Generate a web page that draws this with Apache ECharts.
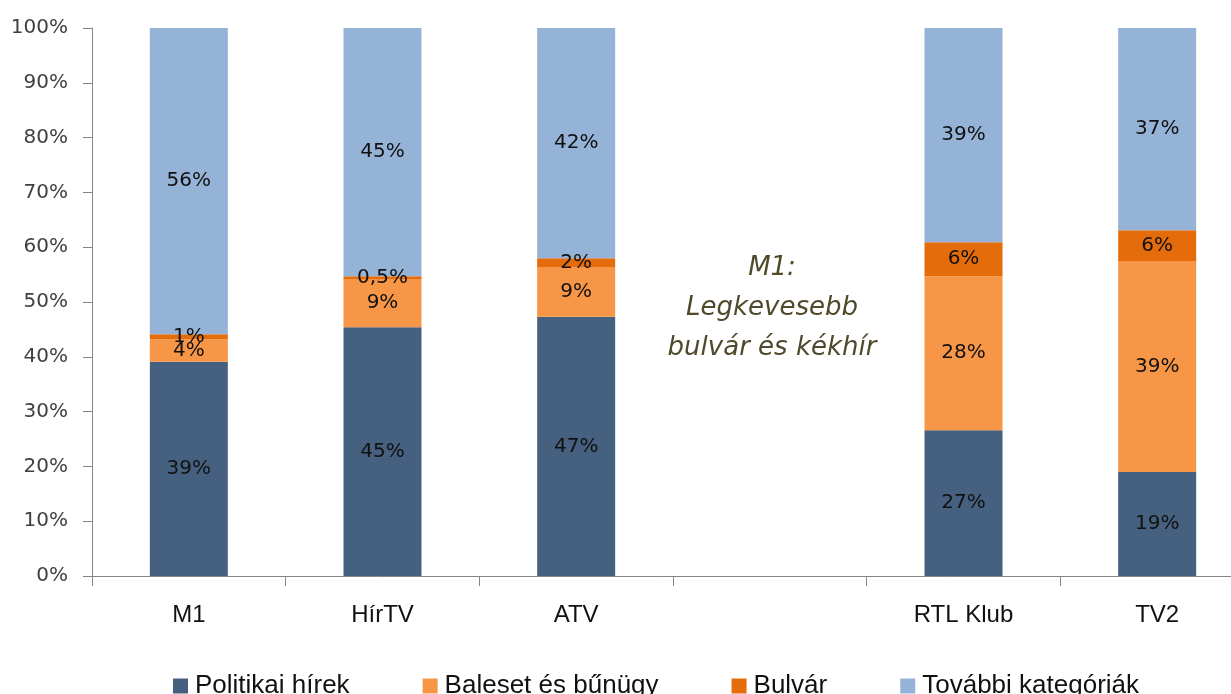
<!DOCTYPE html>
<html>
<head>
<meta charset="utf-8">
<script src="https://cdn.jsdelivr.net/npm/echarts@6/dist/echarts.min.js"></script>
<style>
html,body{margin:0;padding:0;background:#fff;}
#c{width:1231px;height:694px;}
</style>
</head>
<body>
<div id="c"></div>
<script>
const categories = ['M1', 'HírTV', 'ATV', '', 'RTL Klub', 'TV2'];
const politikai = [39.1, 45.4, 47.3, null, 26.6, 19.0];
const baleset = [4.1, 8.8, 9.1, null, 28.1, 38.5];
const bulvar = [0.9, 0.5, 1.6, null, 6.2, 5.6];
const tovabbi = [55.9, 45.3, 42.0, null, 39.1, 36.9];
const politikaiLabels = ['39%', '45%', '47%', '', '27%', '19%'];
const balesetLabels = ['4%', '9%', '9%', '', '28%', '39%'];
const bulvarLabels = ['1%', '0,5%', '2%', '', '6%', '6%'];
const tovabbiLabels = ['56%', '45%', '42%', '', '39%', '37%'];
const seriesNames = ['Politikai hírek', 'Baleset és bűnügy', 'Bulvár', 'További kategóriák'];
const yTicks = [0, 10, 20, 30, 40, 50, 60, 70, 80, 90, 100];
const annotation = 'M1:\nLegkevesebb\nbulvár és kékhír';

const colors = ['#46607F', '#F79646', '#E46C0A', '#95B3D7'];

const chart = echarts.init(document.getElementById('c'), null, {renderer: 'canvas'});
const dataSets = [politikai, baleset, bulvar, tovabbi];
const labelSets = [politikaiLabels, balesetLabels, bulvarLabels, tovabbiLabels];
chart.setOption({
  animation: false,
  color: colors,
  grid: {left: 92, width: 1162, top: 28, bottom: 118, containLabel: false, outerBoundsMode: 'none'},
  legend: {
    top: 668,
    left: 168,
    itemWidth: 15,
    itemHeight: 15,
    itemGap: 73,
    icon: 'rect',
    textStyle: {fontFamily: 'Liberation Sans', fontSize: 26, color: '#111', padding: [0, 0, 0, 2]},
    data: seriesNames
  },
  xAxis: {
    type: 'category',
    data: categories,
    axisLine: {lineStyle: {color: '#868686', width: 1}},
    axisTick: {show: true, length: 10, lineStyle: {color: '#868686'}},
    axisLabel: {fontFamily: 'Liberation Sans', fontSize: 24, color: '#111', margin: 27}
  },
  yAxis: {
    type: 'value',
    min: yTicks[0],
    max: yTicks[yTicks.length - 1],
    interval: 10,
    splitLine: {show: false},
    axisLine: {show: true, lineStyle: {color: '#868686', width: 1}},
    axisTick: {show: true, length: 9, lineStyle: {color: '#868686'}},
    axisLabel: {fontFamily: 'DejaVu Sans', fontSize: 20, color: '#404040', margin: 24, formatter: v => v + '%'}
  },
  series: dataSets.map((d, i) => ({
    name: seriesNames[i],
    type: 'bar',
    stack: 'total',
    barWidth: 78,
    data: d,
    itemStyle: {color: colors[i]},
    label: {
      show: true,
      position: 'inside',
      formatter: p => labelSets[i][p.dataIndex],
      fontFamily: 'DejaVu Sans',
      fontSize: 20,
      color: '#111'
    }
  })),
  graphic: [{
    type: 'text',
    z: 100,
    x: 772,
    y: 248,
    style: {
      text: annotation,
      textAlign: 'center',
      fontFamily: 'DejaVu Sans',
      fontStyle: 'italic',
      fontSize: 26,
      lineHeight: 40,
      fill: '#4F4A2C'
    }
  }]
});
</script>
</body>
</html>
